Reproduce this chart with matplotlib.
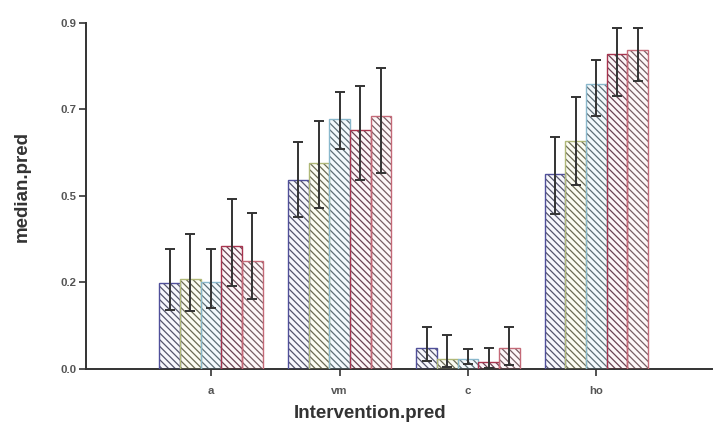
import matplotlib
matplotlib.use("Agg")
import matplotlib.pyplot as plt
import numpy as np

plt.rcParams['font.family'] = ['Liberation Sans', 'DejaVu Sans']

categories = ["a", "vm", "c", "ho"]
# five series per category (median, lower, upper)
medians = [
    [0.224, 0.233, 0.227, 0.321, 0.282],   # a
    [0.492, 0.537, 0.650, 0.622, 0.659],   # vm
    [0.054, 0.027, 0.025, 0.018, 0.054],   # c
    [0.507, 0.594, 0.741, 0.819, 0.830],   # ho
]
lowers = [
    [0.153, 0.150, 0.158, 0.216, 0.183],
    [0.396, 0.418, 0.572, 0.492, 0.509],
    [0.020, 0.004, 0.014, 0.003, 0.010],
    [0.403, 0.479, 0.659, 0.710, 0.749],
]
uppers = [
    [0.311, 0.350, 0.311, 0.442, 0.406],
    [0.590, 0.645, 0.720, 0.737, 0.784],
    [0.108, 0.088, 0.051, 0.054, 0.110],
    [0.603, 0.707, 0.804, 0.886, 0.886],
]
ytick_vals = [0.0, 0.225, 0.45, 0.675, 0.9]
ytick_labels = ["0.0", "0.2", "0.5", "0.7", "0.9"]

edge_colors = ["#50509a", "#b0b878", "#8ab8cc", "#a8344e", "#c46a78"]
hatch_colors = ["#55556c", "#6a6a54", "#5e6e76", "#6a4252", "#785e64"]
face_colors = ["#f7f7fc", "#fbfcf3", "#f3f9fc", "#fcf5f7", "#fdf7f8"]

DPI = 120
S = 100.0 / DPI  # keep visual sizes as if at 100 dpi
plt.rcParams['hatch.linewidth'] = 0.9 * S

fig = plt.figure(figsize=(719 / DPI, 428 / DPI), dpi=DPI)
ax = fig.add_axes([0.1196, 0.1379, 0.8704, 0.8084])

med = np.array(medians)
lo = np.array(lowers)
hi = np.array(uppers)
x = np.arange(1, len(categories) + 1)
nser = med.shape[1]
w = 0.161
for j in range(nser):
    xs = x + (j - (nser - 1) / 2) * w
    ax.bar(xs, med[:, j], width=w, facecolor=face_colors[j], edgecolor=hatch_colors[j],
           linewidth=0, hatch="\\" * 6, zorder=2)
    ax.bar(xs, med[:, j], width=w, fill=False, edgecolor=edge_colors[j],
           linewidth=1.0 * S, zorder=3)
    ax.errorbar(xs, med[:, j], yerr=[med[:, j] - lo[:, j], hi[:, j] - med[:, j]],
                fmt='none', ecolor="#333333", elinewidth=1.4 * S, capsize=3.6 * S,
                capthick=1.4 * S, zorder=4)

ax.set_xlim(0.025, 4.9)
ax.set_ylim(0, 0.9)
ax.set_xticks(x)
ax.set_xticklabels(categories)
ax.set_yticks(ytick_vals)
ax.set_yticklabels(ytick_labels)

for s in ["top", "right"]:
    ax.spines[s].set_visible(False)
for s in ["left", "bottom"]:
    ax.spines[s].set_color("#333333")
    ax.spines[s].set_linewidth(1.4 * S)

ax.tick_params(axis='both', colors="#333333", width=1.2 * S, length=5 * S,
               labelsize=8.2 * S, labelcolor="#555555")
ax.tick_params(axis='x', pad=7 * S)
ax.tick_params(axis='y', pad=2 * S)
for lab in ax.get_yticklabels() + ax.get_xticklabels():
    lab.set_fontweight('bold')

ax.set_xlabel("Intervention.pred", fontsize=13.5 * S, fontweight='bold', color="#333333")
ax.set_ylabel("median.pred", fontsize=13.5 * S, fontweight='bold', color="#333333")
ax.xaxis.set_label_coords(0.454, -0.103)
ax.yaxis.set_label_coords(-0.088, 0.526)

fig.savefig("out.png", dpi=DPI)
